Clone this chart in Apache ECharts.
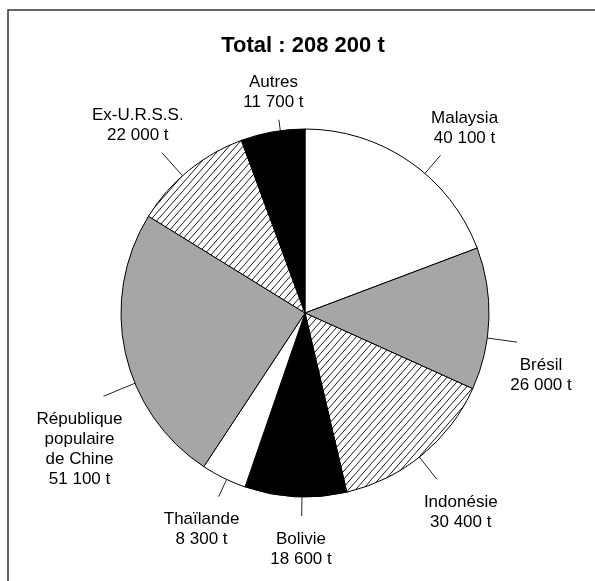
<!DOCTYPE html>
<html>
<head>
<meta charset="utf-8">
<script src="https://cdn.jsdelivr.net/npm/echarts/dist/echarts.min.js"></script>
<style>
html, body { margin: 0; padding: 0; background: #fff; }
#chart { width: 595px; height: 581px; }
</style>
</head>
<body>
<div id="chart"></div>
<script>
// ---- data ----
const categories = ['Malaysia', 'Brésil', 'Indonésie', 'Bolivie', 'Thaïlande', 'République\npopulaire\nde Chine', 'Ex-U.R.S.S.', 'Autres'];
const values = [40100, 26000, 30400, 18600, 8300, 51100, 22000, 11700];
const unit = 't';
const titlePrefix = 'Total : ';

// ---- styles (label guide-line lengths in px, small angular nudges in degrees) ----
const labelLineLengths = [24, 30, 28, 19, 19, 34, 31, 11];
const labelAngleNudge = [6, 6, 1, -2, -1, -10, -2.5, 2.4];

function fmt(n) { return String(n).replace(/\B(?=(\d{3})+(?!\d))/g, ' '); }

function hatchPattern() {
  const w = 7, h = 8;
  const c = document.createElement('canvas');
  c.width = w; c.height = h;
  const g = c.getContext('2d');
  g.fillStyle = '#ffffff';
  g.fillRect(0, 0, w, h);
  g.strokeStyle = '#000000';
  g.lineWidth = 0.9;
  g.beginPath();
  g.moveTo(0, h); g.lineTo(w, 0);
  g.moveTo(-w, h); g.lineTo(0, 0);
  g.moveTo(w, h); g.lineTo(2 * w, 0);
  g.stroke();
  return { image: c, repeat: 'repeat' };
}
const GRAY = '#a6a6a6';
const HATCH = hatchPattern();
const fills = ['#ffffff', GRAY, HATCH, '#000000', '#ffffff', GRAY, HATCH, '#000000'];

const total = values.reduce((a, b) => a + b, 0);
const FONT = '"Liberation Sans", Arial, sans-serif';
const CX = 305, CY = 313, R = 184;

function rotateAbout(q, deg) {
  const t = deg * Math.PI / 180, c = Math.cos(t), s = Math.sin(t);
  const x = q[0] - CX, y = q[1] - CY;
  return [CX + x * c - y * s, CY + x * s + y * c];
}

const chart = echarts.init(document.getElementById('chart'), null, { renderer: 'canvas' });
chart.setOption({
  animation: false,
  backgroundColor: '#ffffff',
  graphic: [
    {
      type: 'rect',
      shape: { x: 8, y: 10, width: 700, height: 700 },
      style: { fill: 'none', stroke: '#333333', lineWidth: 1.5 },
      silent: true
    },
    {
      type: 'text',
      x: 303, y: 46,
      style: {
        text: titlePrefix + fmt(total) + ' ' + unit,
        font: 'bold 22px ' + FONT,
        fill: '#000000',
        align: 'center',
        verticalAlign: 'middle'
      }
    }
  ],
  series: [{
    type: 'pie',
    center: [CX, CY],
    radius: R,
    startAngle: 90,
    clockwise: true,
    avoidLabelOverlap: false,
    emphasis: { disabled: true },
    itemStyle: { borderColor: '#000000', borderWidth: 1 },
    label: {
      show: true,
      position: 'outside',
      fontFamily: FONT,
      fontSize: 17,
      lineHeight: 20,
      color: '#000000',
      align: 'center',
      formatter: p => p.name + '\n' + fmt(p.value) + ' ' + unit
    },
    labelLine: {
      show: true,
      length: 22,
      length2: 0,
      lineStyle: { color: '#222222', width: 1 }
    },
    labelLayout: function (p) {
      const pts = p.labelLinePoints;
      if (!pts) return {};
      const nudge = labelAngleNudge[p.dataIndex] || 0;
      const a = rotateAbout(pts[0], nudge), b = rotateAbout(pts[1], nudge);
      let dx = b[0] - a[0], dy = b[1] - a[1];
      const L = Math.hypot(dx, dy) || 1;
      dx /= L; dy /= L;
      const h = p.labelRect.height;
      const xoff = Math.max(-24, Math.min(24, dx * 40));
      const yoff = dy >= 0 ? (h / 2 + 13) : -(h / 2 + 7);
      return {
        x: b[0] + xoff,
        y: b[1] + yoff,
        align: 'center',
        verticalAlign: 'middle',
        labelLinePoints: [a, b, b]
      };
    },
    data: categories.map((name, i) => ({
      name: name,
      value: values[i],
      itemStyle: { color: fills[i] },
      labelLine: { length: labelLineLengths[i], length2: 0 }
    }))
  }]
});
</script>
</body>
</html>
